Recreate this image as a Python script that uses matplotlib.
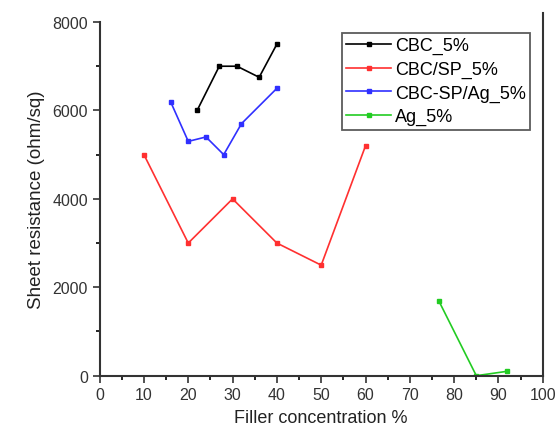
import matplotlib
matplotlib.use('Agg')
import matplotlib.pyplot as plt
from matplotlib.ticker import MultipleLocator

plt.rcParams['font.family'] = ['Liberation Sans', 'DejaVu Sans']

# Datos
cbc_x = [22, 27, 31, 36, 40]
cbc_y = [6000, 7000, 7000, 6750, 7500]
cbc_sp_x = [10, 20, 30, 40, 50, 60]
cbc_sp_y = [5000, 3000, 4000, 3000, 2500, 5200]
cbc_sp_ag_x = [16, 20, 24, 28, 32, 40]
cbc_sp_ag_y = [6200, 5300, 5400, 5000, 5700, 6500]
ag_x = [76.5, 85, 92]
ag_y = [1700, 0, 100]

fig = plt.figure(figsize=(5.55, 4.31), dpi=100)
ax = fig.add_axes([0.1795, 0.126, 0.7985, 0.8206])

ax.plot(cbc_x, cbc_y, color='black', marker='s', markersize=3, linewidth=1.2, label='CBC_5%')
ax.plot(cbc_sp_x, cbc_sp_y, color='#ff3030', marker='s', markersize=3, linewidth=1.2, label='CBC/SP_5%')
ax.plot(cbc_sp_ag_x, cbc_sp_ag_y, color='#3030ff', marker='s', markersize=3, linewidth=1.2, label='CBC-SP/Ag_5%')
ax.plot(ag_x, ag_y, color='#22cc22', marker='s', markersize=3, linewidth=1.2, label='Ag_5%')

ax.set_xlim(0, 100)
ax.set_ylim(0, 8000)
ax.xaxis.set_major_locator(MultipleLocator(10))
ax.xaxis.set_minor_locator(MultipleLocator(5))
ax.yaxis.set_major_locator(MultipleLocator(2000))
ax.yaxis.set_minor_locator(MultipleLocator(1000))
ax.tick_params(which='major', direction='out', length=5, width=1.2, labelsize=11.5, colors='#333333')
ax.tick_params(which='minor', direction='out', length=3, width=1.2)

ax.spines['top'].set_visible(False)
for s in ['left', 'bottom', 'right']:
    ax.spines[s].set_linewidth(1.5)
    ax.spines[s].set_color('#333333')
ax.spines['right'].set_bounds(0, 8200)

ax.set_xlabel('Filler concentration %', fontsize=13, labelpad=5, color='#222222')
ax.set_ylabel('Sheet resistance (ohm/sq)', fontsize=13.5, labelpad=5, color='#222222')

leg = ax.legend(loc='upper right', bbox_to_anchor=(0.972, 0.97), fontsize=13, frameon=True,
                fancybox=False, handlelength=2.5, handletextpad=0.2, borderpad=0.25,
                labelspacing=0.36, borderaxespad=0)
leg.get_frame().set_edgecolor('#333333')
leg.get_frame().set_linewidth(1.3)

plt.savefig('out.png', dpi=100)
